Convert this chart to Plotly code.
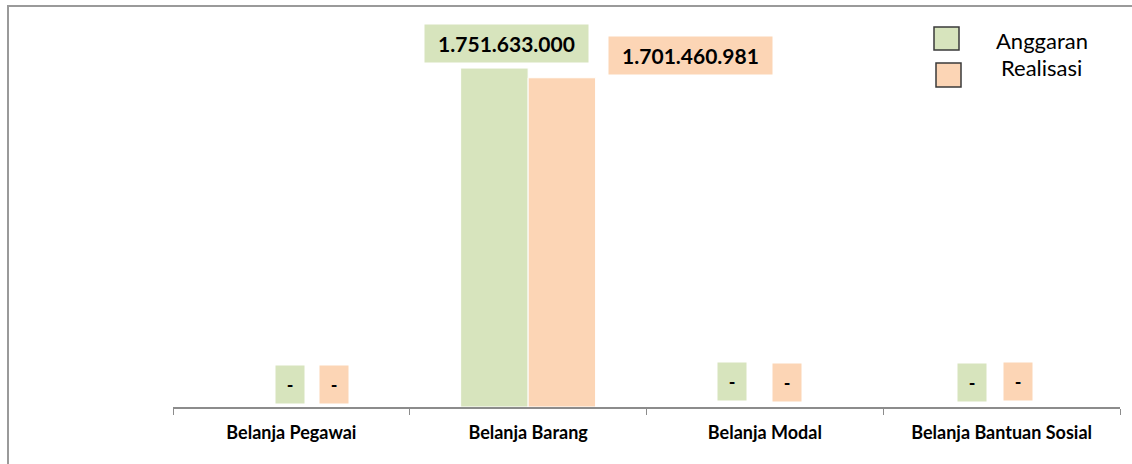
import plotly.graph_objects as go

# ---- data ----
categories = ["Belanja Pegawai", "Belanja Barang", "Belanja Modal", "Belanja Bantuan Sosial"]
series_names = ["Anggaran", "Realisasi"]
anggaran = [0, 1751633000, 0, 0]
realisasi = [0, 1701460981, 0, 0]
y_max = 2000000000

# ---- styling ----
colors = ["#D7E4BD", "#FCD5B5"]
FONT = "Lato"

W, H = 1132, 464
L, R, T, B = 173, 12, 20, 57
PW, PH = W - L - R, H - T - B


def fmt(v):
    return "-" if v == 0 else f"{v:,}".replace(",", ".")


def px_x(px):
    return (px - L) / PW


def px_y(py):
    return (H - B - py) / PH


fig = go.Figure()
for name, vals, col in zip(series_names, [anggaran, realisasi], colors):
    fig.add_bar(
        x=categories, y=vals, name=name,
        marker=dict(color=col, line=dict(color="white", width=1)),
        showlegend=False,
    )

# data-label pixel offsets relative to (category centre, value)
label_offsets = {
    "Anggaran": [(-1.5, 22.5), (-21.5, 24.5), (-33, 25.5), (-30, 24.5)],
    "Realisasi": [(42.5, 22.5), (162.5, 21.8), (22, 24.5), (16, 26)],
}

annotations = []
for name, vals, col in zip(series_names, [anggaran, realisasi], colors):
    for cat, v, (dx, dy) in zip(categories, vals, label_offsets[name]):
        big = v != 0
        annotations.append(dict(
            x=cat, y=v, xref="x", yref="y", xshift=dx, yshift=dy,
            text="<b>%s</b>" % fmt(v), showarrow=False,
            bgcolor=col, width=163 if big else 28, height=37, borderpad=0,
            font=dict(family=FONT, size=21 if big else 18, color="black"),
            xanchor="center", yanchor="middle",
        ))

# legend (drawn manually to match the large square keys)
legend_keys = [(934, 27, 959, 50), (936, 63, 961, 87)]
legend_text_pos = [(1042, 40), (1041, 67)]
shapes = []
for (x0, y0, x1, y1), col, name, (tx, ty) in zip(legend_keys, colors, series_names, legend_text_pos):
    shapes.append(dict(type="rect", xref="paper", yref="paper",
                       x0=px_x(x0), x1=px_x(x1), y0=px_y(y1), y1=px_y(y0),
                       fillcolor=col, line=dict(color="#3a3a3a", width=1.5)))
    annotations.append(dict(x=px_x(tx), y=px_y(ty), xref="paper", yref="paper",
                            text=name, showarrow=False, xanchor="center", yanchor="middle",
                            font=dict(family=FONT, size=22, color="black")))

# chart-area border (left and top edges visible)
shapes.append(dict(type="path", xref="paper", yref="paper",
                   path="M %f,%f L %f,%f L %f,%f" % (px_x(8), px_y(470), px_x(8), px_y(6), px_x(1140), px_y(6)),
                   line=dict(color="#9a9a9a", width=2)))

fig.update_layout(
    width=W, height=H,
    margin=dict(l=L, r=R, t=T, b=B, pad=0),
    paper_bgcolor="white", plot_bgcolor="white",
    barmode="group", bargap=0.43, bargroupgap=0.0,
    font=dict(family=FONT, color="black"),
    xaxis=dict(type="category", showline=True, linecolor="#8c8c8c", linewidth=2,
               ticks="outside", tickson="boundaries", ticklen=6, tickcolor="#8c8c8c", tickwidth=1,
               showgrid=False, zeroline=False, ticklabelstandoff=8,
               tickfont=dict(family=FONT, size=18, color="black", weight="bold")),
    yaxis=dict(visible=False, range=[0, y_max], showgrid=False, zeroline=False),
    annotations=annotations, shapes=shapes,
)

fig.write_html("out.html", config={"displayModeBar": False},
               post_script="document.body.style.margin='0';document.body.style.overflow='hidden';")
